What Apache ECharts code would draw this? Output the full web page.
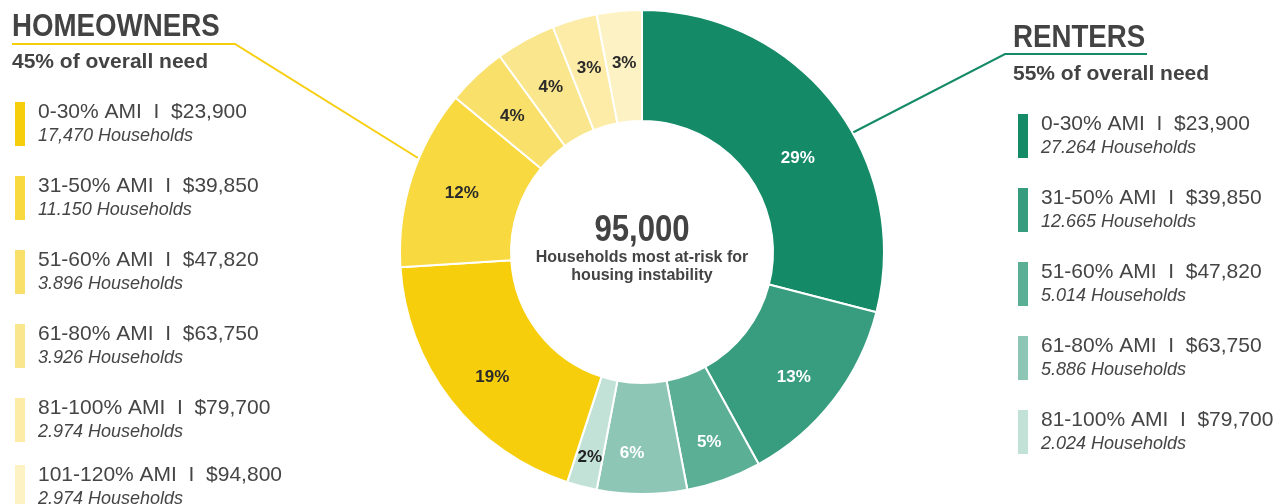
<!doctype html>
<html>
<head>
<meta charset="utf-8">
<title>Households most at-risk for housing instability</title>
<style>
  html, body { margin: 0; padding: 0; background: #fff; }
  #chart { width: 1285px; height: 504px; }
</style>
</head>
<body>
<div id="chart"></div>
<script src="https://cdn.jsdelivr.net/npm/echarts@6/dist/echarts.min.js"></script>
<script>
// data
var amiBands = ['0-30% AMI', '31-50% AMI', '51-60% AMI', '61-80% AMI', '81-100% AMI', '101-120% AMI'];
var amiIncome = ['$23,900', '$39,850', '$47,820', '$63,750', '$79,700', '$94,800'];
var renterHouseholds = ['27.264', '12.665', '5.014', '5.886', '2.024'];
var ownerHouseholds = ['17,470', '11.150', '3.896', '3.926', '2.974', '2.974'];
var renterShare = [29, 13, 5, 6, 2];
var ownerShare = [19, 12, 4, 4, 3, 3];
var totalHouseholds = '95,000';

var renterColors = ['#148a67', '#389c7e', '#5baf95', '#8dc6b4', '#c2e2d8'];
var ownerColors = ['#f6ce0c', '#f8d93f', '#f9e06a', '#fae68c', '#fceca8', '#fdf2c4'];
// hand placed labels in the original sit a little off the slice middle
var renterLabelNudge = [[6, 22], [2, 9], [3, 12], [-10, 12], [-5, 22]];
var ownerLabelNudge = [[0, 9], [0, 0], [0, 2], [0, 1], [0, -2], [0, 0]];

var sans = "'Liberation Sans', Arial, sans-serif";

var pieData = [];
var legendText = {};
var renterNames = [], ownerNames = [];
renterShare.forEach(function (v, i) {
    var name = 'Renters ' + amiBands[i];
    renterNames.push(name);
    legendText[name] = [amiBands[i] + '  I  ' + amiIncome[i], renterHouseholds[i] + ' Households'];
    pieData.push({
        name: name, value: v,
        itemStyle: { color: renterColors[i] },
        label: { color: i < 4 ? '#ffffff' : '#222222', offset: renterLabelNudge[i] }
    });
});
ownerShare.forEach(function (v, i) {
    var name = 'Homeowners ' + amiBands[i];
    ownerNames.push(name);
    legendText[name] = [amiBands[i] + '  I  ' + amiIncome[i], ownerHouseholds[i] + ' Households'];
    pieData.push({
        name: name, value: v,
        itemStyle: { color: ownerColors[i] },
        label: { color: '#2a2a2a', offset: ownerLabelNudge[i] }
    });
});

function legendFmt(name) {
    var t = legendText[name];
    return '{a|' + t[0] + '}\n{b|' + t[1] + '}';
}
var legendRich = {
    a: { fontSize: 21, fontFamily: sans, color: '#454545', lineHeight: 23, padding: [0, 0, 0, 7] },
    b: { fontSize: 18, fontFamily: sans, fontStyle: 'italic', color: '#454545', lineHeight: 23, padding: [0, 0, 0, 7] }
};
function legendBlock(names, left, top, gap) {
    return {
        data: names, orient: 'vertical', left: left, top: top, padding: 0,
        icon: 'rect', itemWidth: 12, itemHeight: 46, itemGap: gap,
        selectedMode: false, formatter: legendFmt,
        textStyle: { rich: legendRich }
    };
}

// narrow-looking bold text: squeeze a regular bold face horizontally
function squeezed(x, y, text, size, align) {
    return {
        type: 'text', x: x, y: y, scaleX: 0.865,
        style: { x: 0, y: 0, text: text, font: 'bold ' + size + 'px ' + sans, fill: '#434343',
                 align: align || 'left', verticalAlign: 'middle' }
    };
}

var chart = echarts.init(document.getElementById('chart'));
chart.setOption({
    animation: false,
    legend: [
        // the homeowners column runs past the bottom edge, so its last entry gets its own block
        legendBlock(ownerNames.slice(0, 5), 13, 100, 26),
        legendBlock(ownerNames.slice(5), 13, 463, 26),
        legendBlock(renterNames, 1016, 112, 26)
    ],
    series: [{
        type: 'pie',
        center: [642, 252],
        radius: [131, 242],
        startAngle: 90,
        clockwise: true,
        avoidLabelOverlap: false,
        itemStyle: { borderColor: '#ffffff', borderWidth: 2 },
        label: {
            show: true, position: 'inside', formatter: '{c}%',
            fontFamily: sans, fontWeight: 'bold', fontSize: 17
        },
        labelLine: { show: false },
        emphasis: { disabled: true },
        data: pieData
    }],
    graphic: [
        // homeowners heading + connector
        squeezed(12, 27, 'HOMEOWNERS', 32),
        { type: 'text', style: { x: 12, y: 62, text: '45% of overall need', font: 'bold 21px ' + sans, fill: '#434343', verticalAlign: 'middle' } },
        { type: 'polyline', shape: { points: [[12, 44], [235, 44], [418, 158]] }, style: { stroke: '#f6ce0c', lineWidth: 2, fill: null } },
        // renters heading + connector
        squeezed(1013, 38, 'RENTERS', 32),
        { type: 'text', style: { x: 1013, y: 74, text: '55% of overall need', font: 'bold 21px ' + sans, fill: '#434343', verticalAlign: 'middle' } },
        { type: 'polyline', shape: { points: [[1147, 54], [1005, 54], [852, 133]] }, style: { stroke: '#148a67', lineWidth: 2, fill: null } },
        // centre text
        squeezed(642, 231, totalHouseholds, 36, 'center'),
        { type: 'text', style: { x: 642, y: 258, text: 'Households most at-risk for', font: 'bold 16px ' + sans, fill: '#434343', align: 'center', verticalAlign: 'middle' } },
        { type: 'text', style: { x: 642, y: 276, text: 'housing instability', font: 'bold 16px ' + sans, fill: '#434343', align: 'center', verticalAlign: 'middle' } }
    ]
});
</script>
</body>
</html>
